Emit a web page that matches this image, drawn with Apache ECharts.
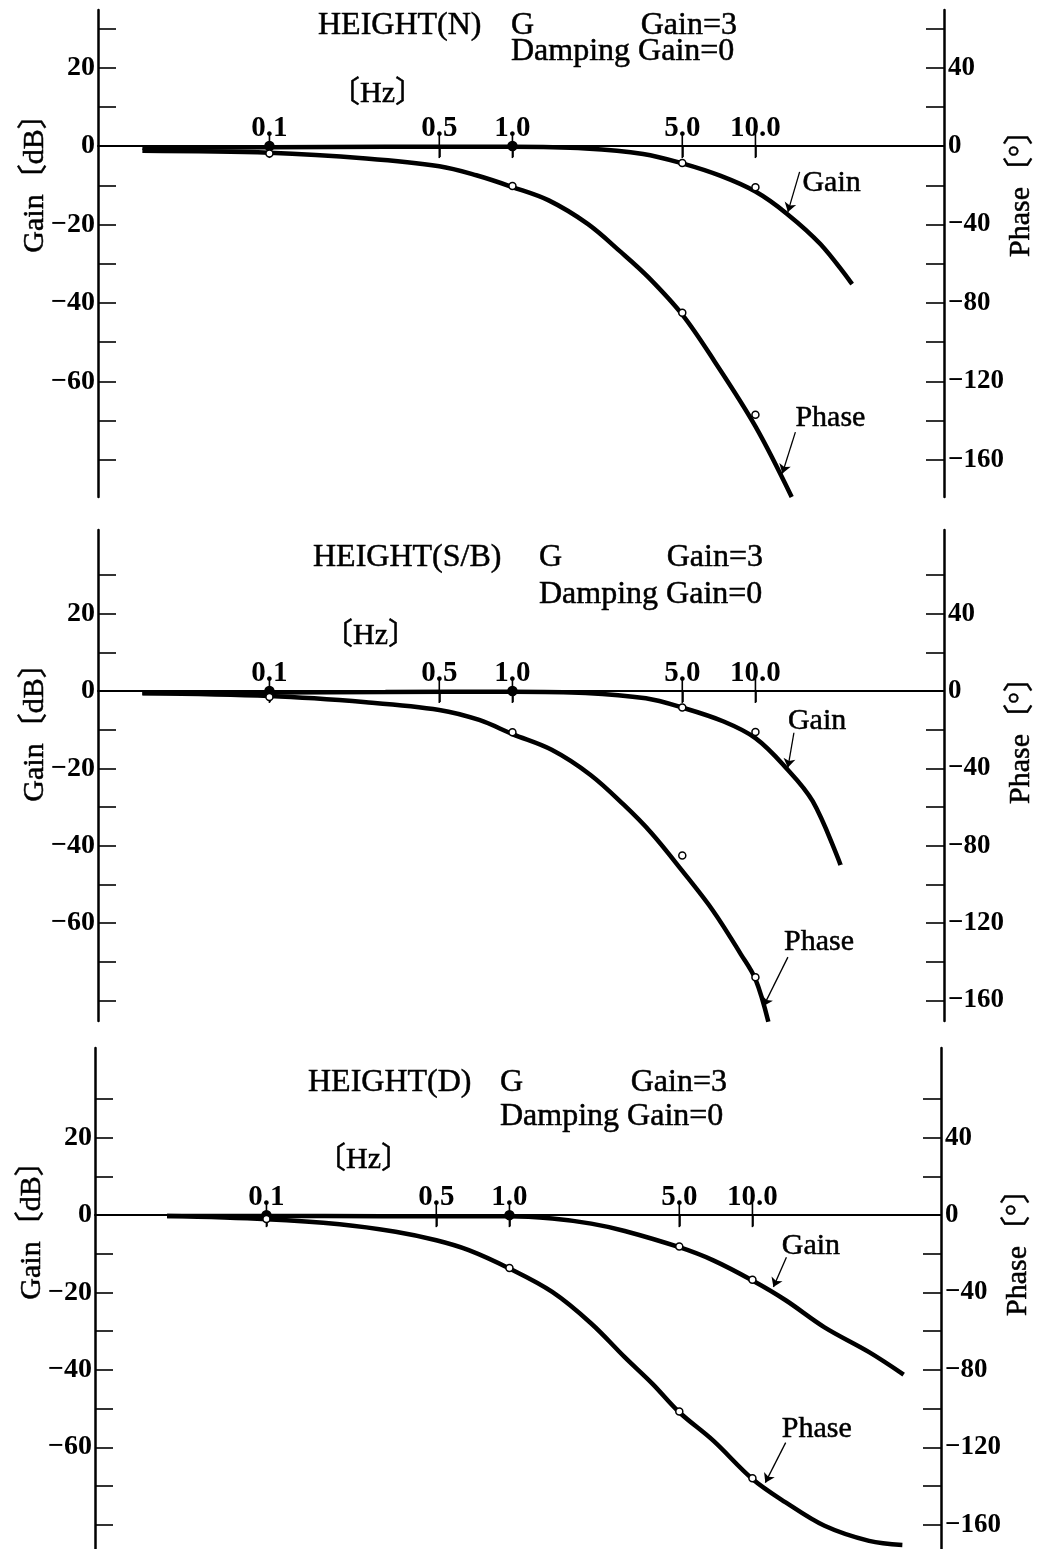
<!DOCTYPE html>
<html>
<head>
<meta charset="utf-8">
<title>HEIGHT frequency response</title>
<script src="https://cdn.jsdelivr.net/npm/echarts@6/dist/echarts.min.js"></script>
<style>
  html, body { margin: 0; padding: 0; background: #fff; }
  #chart { width: 1040px; height: 1549px; }
</style>
</head>
<body>
<div id="chart"></div>
<script>
// ---- axis ticks ----
const FREQ_TICKS = [0.1, 0.5, 1.0, 5.0, 10.0];
const FREQ_TICK_LABELS = ['0.1', '0.5', '1.0', '5.0', '10.0'];
const GAIN_TICKS = [30, 20, 10, 0, -10, -20, -30, -40, -50, -60, -70, -80];
const GAIN_TICK_LABELS = [20, 0, -20, -40, -60];
const PHASE_TICKS = [60, 40, 20, 0, -20, -40, -60, -80, -100, -120, -140, -160];
const PHASE_TICK_LABELS = [40, 0, -40, -80, -120, -160];

// measured frequencies (Hz)
const POINT_FREQ = [0.1, 1.0, 5.0, 10.0];

// ---- HEIGHT(N) ----
const nGainFreq  = [0.030, 0.1, 0.3, 1.0, 2.0, 3.45, 5.0, 7.2, 10.0, 13.5, 18.5, 25.0];
const nGainDb    = [-0.4, -0.3, -0.2, -0.2, -0.6, -2.0, -4.4, -7.6, -11.6, -17.3, -25.0, -35.2];
const nPhaseFreq = [0.030, 0.1, 0.25, 0.5, 0.71, 1.0, 1.41, 2.04, 2.79, 3.63, 5.0, 6.8, 10.0, 14.1];
const nPhaseDeg  = [-2.4, -3.4, -6.3, -10.3, -14.9, -20.9, -27.7, -39.7, -54, -67, -86, -110, -143, -179];
const nPointGain  = [0, 0, -4.3, -10.5];
const nPointPhase = [-3.8, -20.4, -85, -137];

// ---- HEIGHT(S/B) ----
const sGainFreq  = [0.030, 0.1, 0.3, 1.0, 2.0, 3.54, 5.0, 7.4, 10.0, 13.2, 17.2, 22.4];
const sGainDb    = [-0.5, -0.4, -0.3, -0.2, -0.5, -1.9, -4.3, -7.9, -12.2, -19.5, -28.5, -45.0];
const sPhaseFreq = [0.030, 0.1, 0.25, 0.5, 0.73, 1.0, 1.45, 2.09, 2.87, 3.73, 5.0, 6.7, 8.7, 10.0, 11.3];
const sPhaseDeg  = [-1.2, -2.6, -5.8, -9.8, -15, -22.3, -30.4, -43.3, -58.8, -73.4, -93, -113.7, -136, -149, -171];
const sPointGain  = [0, 0, -4.3, -10.6];
const sPointPhase = [-3.1, -21.3, -85, -148];

// ---- HEIGHT(D) ----
const dGainFreq  = [0.039, 0.1, 0.3, 1.0, 1.5, 2.17, 2.98, 5.0, 6.9, 10.0, 13.7, 19.8, 30.2, 41.9];
const dGainDb    = [-0.2, -0.2, -0.3, -0.3, -0.9, -2.2, -4.1, -8.3, -11.7, -16.9, -22.0, -29.0, -35.4, -41.2];
const dPhaseFreq = [0.039, 0.1, 0.2, 0.34, 0.5, 0.68, 1.0, 1.5, 2.17, 2.98, 3.88, 5.0, 6.9, 10.0, 13.7, 19.8, 30.2, 41.4];
const dPhaseDeg  = [-0.5, -2.1, -4.7, -8.6, -13, -18.1, -27.6, -39.7, -56, -73.4, -87.2, -101.9, -116.6, -136.4, -148.5, -160.6, -168.4, -170.5];
const dPointGain  = [0, 0, -8.1, -16.7];
const dPointPhase = [-2, -27.3, -101.5, -136];

const FONT = "'Liberation Serif', 'Noto Sans CJK JP', serif";
const FREQ_MIN = 0.0197;
const FREQ_MAX = 59.7;

const zip = (xs, ys) => xs.map((x, k) => [x, ys[k]]);
const minus = v => String(v).replace('-', '\u2212');

// layout of the three stacked panels
const panels = [
  {
    name: 'HEIGHT(N)',
    gainFreq: nGainFreq, gainDb: nGainDb, phaseFreq: nPhaseFreq, phaseDeg: nPhaseDeg,
    pointGain: nPointGain, pointPhase: nPointPhase,
    grid: { left: 98, top: 10, width: 846, height: 487 },
    gainRange: [-89.5, 34.7],
    text: { nameX: 318, gX: 511, rightX: 737, line1Y: 26, line2Y: 52, hzX: 330, hzY: 94,
            gainTitleY: 176, phaseTitleY: 186 },
    gainNote:  { at: [15.6, -9.4],   from: [15.2, -6.6],   to: [13.6, -16.8] },
    phaseNote: { at: [14.6, -138.8], from: [14.6, -145.9], to: [12.9, -167] }
  },
  {
    name: 'HEIGHT(S/B)',
    gainFreq: sGainFreq, gainDb: sGainDb, phaseFreq: sPhaseFreq, phaseDeg: sPhaseDeg,
    pointGain: sPointGain, pointPhase: sPointPhase,
    grid: { left: 98, top: 530, width: 846, height: 491 },
    gainRange: [-85.3, 41.6],
    text: { nameX: 313, gX: 539, rightX: 763, line1Y: 558, line2Y: 595, hzX: 323, hzY: 636,
            gainTitleY: 725, phaseTitleY: 733 },
    gainNote:  { at: [13.6, -7.7],   from: [14.4, -10.8],  to: [13.6, -19.8] },
    phaseNote: { at: [13.1, -129.9], from: [13.6, -137.6], to: [10.8, -162.9] }
  },
  {
    name: 'HEIGHT(D)',
    gainFreq: dGainFreq, gainDb: dGainDb, phaseFreq: dPhaseFreq, phaseDeg: dPhaseDeg,
    pointGain: dPointGain, pointPhase: dPointPhase,
    grid: { left: 95, top: 1048, width: 846, height: 501 },
    gainRange: [-86.3, 43.2],
    text: { nameX: 308, gX: 500, rightX: 727, line1Y: 1083, line2Y: 1117, hzX: 316, hzY: 1160,
            gainTitleY: 1223, phaseTitleY: 1245 },
    gainNote:  { at: [13.2, -8.0],   from: [13.8, -10.9],  to: [12.2, -18.6] },
    phaseNote: { at: [13.2, -110.4], from: [13.7, -117.6], to: [11.3, -138.3] }
  }
];

const black = '#000';
const tickStyle = { color: black, width: 1.6 };
const inkText = { textBorderColor: black, textBorderWidth: 0.5 };

const option = {
  animation: false,
  backgroundColor: '#fff',
  grid: [], xAxis: [], yAxis: [], series: [], graphic: []
};

function freqLabel(v) {
  let best = 0;
  FREQ_TICKS.forEach((f, k) => {
    if (Math.abs(Math.log(f / v)) < Math.abs(Math.log(FREQ_TICKS[best] / v))) best = k;
  });
  return FREQ_TICK_LABELS[best];
}

function textEl(x, y, text, size, align, opts) {
  return Object.assign({
    type: 'text', x: x, y: y, silent: true,
    style: {
      text: text, font: size + 'px ' + FONT, fill: black,
      stroke: black, lineWidth: 0.5,
      align: align, verticalAlign: 'middle',
      textAlign: align, textVerticalAlign: 'middle'
    }
  }, opts || {});
}

panels.forEach((p, i) => {
  const gAxis = 2 * i;      // gain (left) y axis
  const pAxis = 2 * i + 1;  // phase (right) y axis
  option.grid.push(Object.assign({ containLabel: false, outerBoundsMode: 'none' }, p.grid));

  // frequency axis drawn along the 0 dB line
  option.xAxis.push({
    type: 'log', logBase: 10, gridIndex: i, min: FREQ_MIN, max: FREQ_MAX, position: 'bottom',
    splitLine: { show: false }, minorTick: { show: false }, minorSplitLine: { show: false },
    axisLine: { show: true, onZero: true, onZeroAxisIndex: gAxis, lineStyle: { color: black, width: 2 } },
    axisTick: { show: true, inside: false, length: 11, lineStyle: tickStyle, customValues: FREQ_TICKS },
    axisLabel: { show: false }
  });

  option.yAxis.push({
    type: 'value', gridIndex: i, position: 'left',
    min: p.gainRange[0], max: p.gainRange[1],
    axisLine: { show: true, onZero: false, lineStyle: { color: black, width: 2.5 } },
    axisTick: { show: true, inside: true, length: 18, lineStyle: tickStyle, customValues: GAIN_TICKS },
    axisLabel: { show: true, customValues: GAIN_TICK_LABELS, formatter: minus, margin: 3,
                 fontSize: 28, fontFamily: FONT, color: black, fontWeight: 'bold' },
    splitLine: { show: false }
  });
  option.yAxis.push({
    type: 'value', gridIndex: i, position: 'right',
    min: p.gainRange[0] * 2, max: p.gainRange[1] * 2,
    axisLine: { show: true, onZero: false, lineStyle: { color: black, width: 2.5 } },
    axisTick: { show: true, inside: true, length: 18, lineStyle: tickStyle, customValues: PHASE_TICKS },
    axisLabel: { show: true, customValues: PHASE_TICK_LABELS, formatter: minus, margin: 4,
                 fontSize: 27, fontFamily: FONT, color: black, fontWeight: 'bold' },
    splitLine: { show: false }
  });

  // frequency tick marks crossing the 0 dB line, with their values written above
  option.series.push({
    type: 'scatter', name: 'Frequency ticks', xAxisIndex: i, yAxisIndex: gAxis, silent: true, z: 2,
    data: FREQ_TICKS.map(f => [f, 0]),
    symbol: 'rect', symbolSize: [1.6, 24],
    itemStyle: { color: black, opacity: 1 },
    label: {
      show: true, position: 'top', distance: 0, offset: [0, 9],
      formatter: prm => freqLabel(prm.value[0]),
      fontSize: 29, fontFamily: FONT, fontWeight: 'bold', color: black
    }
  });

  const curve = { type: 'line', xAxisIndex: i, showSymbol: false, smooth: 0.35, silent: true,
                  lineStyle: { color: black, width: 4.5 }, z: 3 };
  option.series.push(Object.assign({}, curve, { name: 'Gain', yAxisIndex: gAxis, data: zip(p.gainFreq, p.gainDb) }));
  option.series.push(Object.assign({}, curve, { name: 'Phase', yAxisIndex: pAxis, data: zip(p.phaseFreq, p.phaseDeg) }));

  const onLine = v => Math.abs(v[1]) < 0.5;
  option.series.push({
    type: 'scatter', name: 'Gain points', xAxisIndex: i, yAxisIndex: gAxis, silent: true, z: 5,
    data: zip(POINT_FREQ, p.pointGain),
    symbol: 'circle', symbolSize: v => (onLine(v) ? 9 : 7),
    itemStyle: { color: prm => (onLine(prm.value) ? black : '#fff'), borderColor: black, borderWidth: 1.5, opacity: 1 }
  });
  option.series.push({
    type: 'scatter', name: 'Phase points', xAxisIndex: i, yAxisIndex: pAxis, silent: true, z: 5,
    data: zip(POINT_FREQ, p.pointPhase),
    symbol: 'circle', symbolSize: 7,
    itemStyle: { color: '#fff', borderColor: black, borderWidth: 1.5, opacity: 1 }
  });

  // curve captions with leader arrows
  [['Gain', p.gainNote, gAxis], ['Phase', p.phaseNote, pAxis]].forEach(([label, note, yi]) => {
    option.series.push({
      type: 'scatter', name: label + ' note', xAxisIndex: i, yAxisIndex: yi, silent: true, z: 6,
      data: [note.at], symbolSize: 0.1, itemStyle: { color: black, opacity: 1 },
      label: Object.assign({ show: true, position: 'right', distance: 0, formatter: label,
               fontSize: 30, fontFamily: FONT, color: black, opacity: 1 }, inkText),
      markLine: {
        silent: true, animation: false, symbol: ['none', 'arrow'], symbolSize: 9,
        lineStyle: { color: black, width: 1.3, type: 'solid', opacity: 1 },
        label: { show: false },
        data: [[{ coord: note.from }, { coord: note.to }]]
      }
    });
  });

  const t = p.text;
  option.graphic.push(textEl(t.nameX, t.line1Y, p.name, 32, 'left'));
  option.graphic.push(textEl(t.gX, t.line1Y, 'G', 32, 'left'));
  option.graphic.push(textEl(t.rightX, t.line1Y, 'Gain=3', 32, 'right'));
  option.graphic.push(textEl(t.gX, t.line2Y, 'Damping Gain=0', 32, 'left'));
  option.graphic.push(textEl(t.hzX, t.hzY, '\u3014Hz\u3015', 30, 'left'));

  const rotated = { rotation: Math.PI / 2 };
  option.graphic.push(textEl(p.grid.left - 63, t.gainTitleY, 'Gain\u3014dB\u3015', 30, 'center', rotated));
  option.graphic.push(textEl(p.grid.left + p.grid.width + 77, t.phaseTitleY, 'Phase\u3014\u00b0\u3015', 30, 'center', rotated));
});

const chart = echarts.init(document.getElementById('chart'), null, { renderer: 'canvas' });
chart.setOption(option);
</script>
</body>
</html>
